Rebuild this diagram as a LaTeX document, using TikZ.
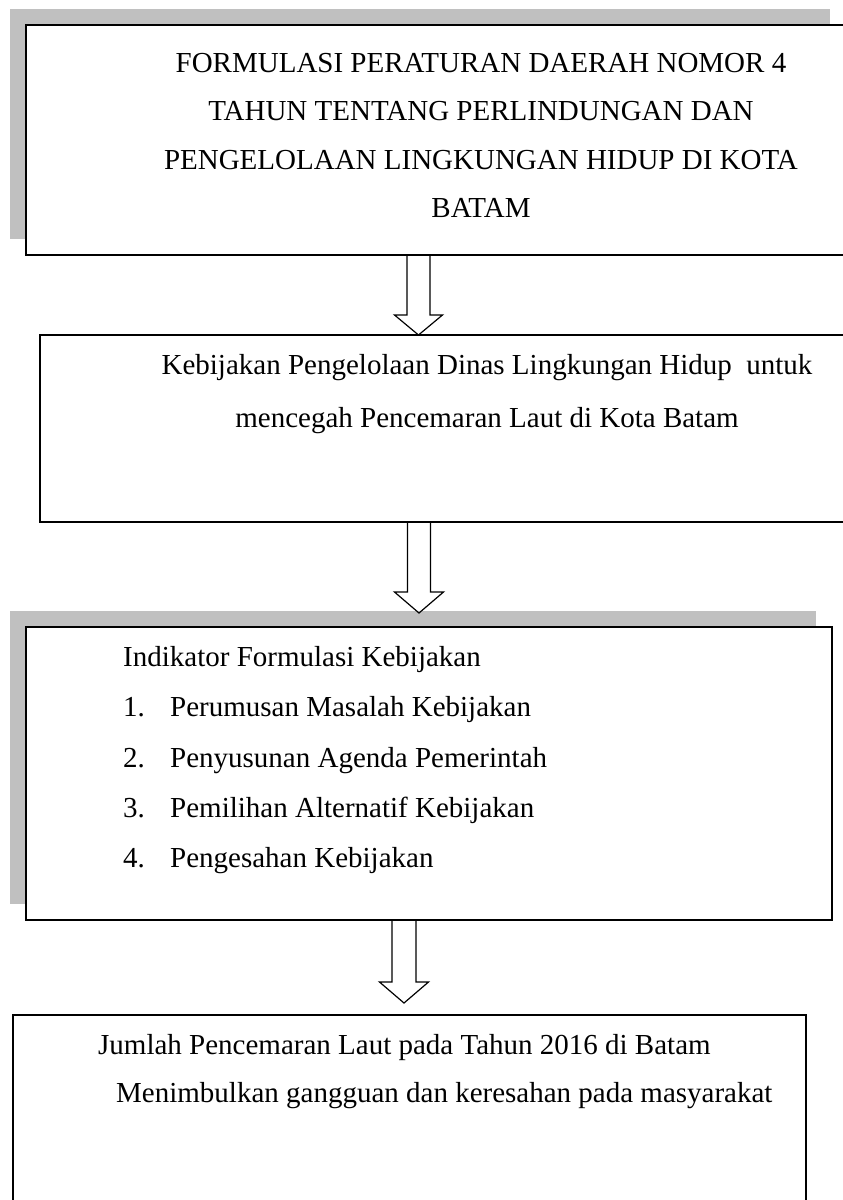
\documentclass[tikz,border=0pt]{standalone}
\usepackage{fontspec}
\setmainfont{Liberation Serif}
\usetikzlibrary{calc,shadows}
\definecolor{shadowgray}{RGB}{192,192,192}
\newcommand{\hollowarrow}[5]{%
  \draw[arrowline] let \p1=(#1), \p2=(#2) in
    (\x1-#3pt,\y1) -- (\x1-#3pt,\y2+#5pt) -- (\x1-#4pt,\y2+#5pt) -- (\x2,\y2)
    -- (\x1+#4pt,\y2+#5pt) -- (\x1+#3pt,\y2+#5pt) -- (\x1+#3pt,\y1);}
\begin{document}
\begin{tikzpicture}[x=1pt,y=-1pt,
  box/.style={draw=black, line width=1.5pt, fill=white, rectangle, inner sep=0pt},
  shadowed/.style={drop shadow={shadow xshift=-16pt, shadow yshift=16pt, opacity=1, fill=shadowgray}},
  txt/.style={font=\fontsize{29}{34}\selectfont, inner sep=0pt, anchor=base},
  ltxt/.style={txt, anchor=base west},
  arrowline/.style={draw=black, line width=1.2pt, line join=miter}]
\useasboundingbox (0,0) rectangle (843,1200);
\clip (0,0) rectangle (843,1200);

% boxes
\node[box, shadowed, minimum width=820pt, minimum height=230pt] (b1) at (436,140) {};
\node[box, minimum width=820pt, minimum height=187pt] (b2) at (450,428.5) {};
\node[box, shadowed, minimum width=806pt, minimum height=293pt] (b3) at (429,773.5) {};
\node[box, minimum width=793pt, minimum height=220pt] (b4) at (409.5,1125) {};

% box 1 text
\node[txt] (t1a) at (481,72) {FORMULASI PERATURAN DAERAH NOMOR 4};
\node[txt] (t1b) at (481,120) {TAHUN TENTANG PERLINDUNGAN DAN};
\node[txt] (t1c) at (481,169) {PENGELOLAAN LINGKUNGAN HIDUP DI KOTA};
\node[txt] (t1d) at (481,217) {BATAM};

% box 2 text
\node[txt] (t2a) at (487,374) {Kebijakan Pengelolaan Dinas Lingkungan Hidup\ \ untuk};
\node[txt] (t2b) at (487,427) {mencegah Pencemaran Laut di Kota Batam};

% box 3 text
\node[ltxt] (t3h) at (123,666) {Indikator Formulasi Kebijakan};
\node[ltxt] (n1) at (123,716) {1.};
\node[ltxt] (i1) at (170,716) {Perumusan Masalah Kebijakan};
\node[ltxt] (n2) at (123,767) {2.};
\node[ltxt] (i2) at (170,767) {Penyusunan Agenda Pemerintah};
\node[ltxt] (n3) at (123,817) {3.};
\node[ltxt] (i3) at (170,817) {Pemilihan Alternatif Kebijakan};
\node[ltxt] (n4) at (123,867) {4.};
\node[ltxt] (i4) at (170,867) {Pengesahan Kebijakan};

% box 4 text
\node[ltxt] (t4a) at (98,1054) {Jumlah Pencemaran Laut pada Tahun 2016 di Batam};
\node[ltxt] (t4b) at (116,1102) {Menimbulkan gangguan dan keresahan pada masyarakat};

% block arrows
\coordinate (a1tip) at (418.5,335);
\coordinate (a2tip) at (419,613);
\coordinate (a3tip) at (404,1003);
\hollowarrow{b1.south -| a1tip}{a1tip}{11.5}{24}{20}
\hollowarrow{b2.south -| a2tip}{a2tip}{11.5}{24.5}{21}
\hollowarrow{b3.south -| a3tip}{a3tip}{12}{24.5}{21}
\end{tikzpicture}
\end{document}
